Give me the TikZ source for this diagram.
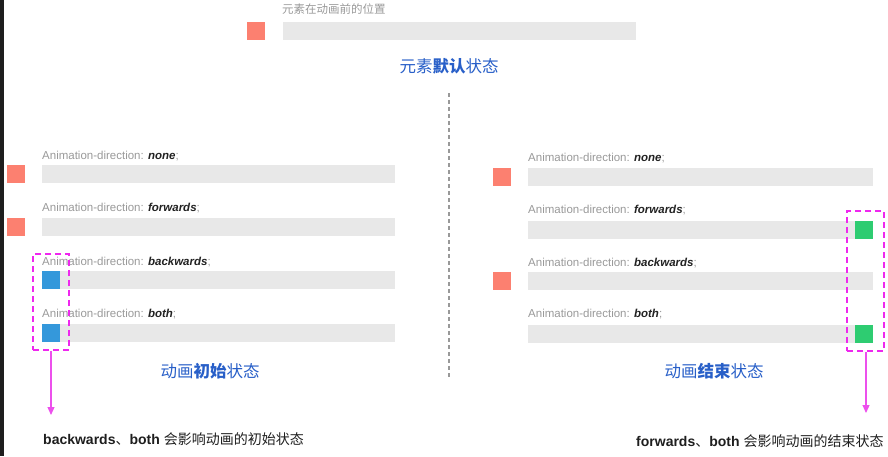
\documentclass[tikz,border=0pt]{standalone}
\usepackage{fontspec}
\setmainfont{Liberation Sans}
\newfontfamily\cjk{Noto Sans CJK SC}
\usepackage{tikz}
\usetikzlibrary{calc, positioning, arrows.meta}
\definecolor{sqred}{RGB}{252,128,112}
\definecolor{sqblue}{RGB}{52,152,219}
\definecolor{sqgreen}{RGB}{46,204,113}
\definecolor{barcol}{RGB}{232,232,232}
\definecolor{lblgray}{RGB}{153,153,153}
\definecolor{boldtxt}{RGB}{34,34,34}
\definecolor{titleblue}{RGB}{40,95,200}
\definecolor{markpink}{RGB}{238,40,238}
\definecolor{arrowpink}{RGB}{236,80,236}
\definecolor{notetxt}{RGB}{30,30,30}
\definecolor{stripdark}{RGB}{30,30,30}
\tikzstyle{sq}=[inner sep=0pt, minimum size=18pt, shape=rectangle]
\tikzstyle{bar}=[inner sep=0pt, minimum height=18pt, fill=barcol, anchor=north west]
\tikzstyle{lbl}=[inner sep=0pt, anchor=base west, text=lblgray, font=\fontsize{11.5}{13}\selectfont]
\tikzstyle{ttl}=[inner sep=0pt, text=titleblue, font=\cjk\fontsize{16.5}{18}\selectfont]
\tikzstyle{markbox}=[draw=markpink, dash pattern=on 6pt off 4pt, line width=1.8pt, inner sep=0pt, shape=rectangle]
\tikzstyle{note}=[inner sep=0pt, anchor=base west, text=notetxt, font=\fontsize{14}{16}\selectfont]
\tikzstyle{pointer}=[->, arrowpink, line width=1.1pt]
\tikzset{>={Triangle[width=7pt,length=8pt]}}
\newcommand{\dirval}[1]{\textcolor{boldtxt}{\textbf{\textit{#1}}}}

\begin{document}
\begin{tikzpicture}[x=1pt, y=-1pt]
\useasboundingbox (0,0) rectangle (888,456);
\fill[stripdark] (0,0) rectangle (4,456);
% the default state
\node[inner sep=0pt, anchor=base west, text=lblgray, font=\cjk\fontsize{11.5}{13}\selectfont] (cap) at (282,13) {元素在动画前的位置};
\node[sq, fill=sqred] (s0) at (256,31) {};
\node[bar, minimum width=353pt] (b0) at (283,22) {};
\node[ttl] (t0) at (449,66) {元素\textbf{默认}状态};
% the divider
\draw[lblgray, line width=1.3pt, dash pattern=on 4pt off 3pt] (449,93) -- (449,377);
% the start state
\node[lbl] (la1) at (42,159) {Animation-direction: \dirval{none};};
\node[bar, minimum width=353pt] (ba1) at (42,165) {};
\node[sq, fill=sqred] (sa1) at (16,174) {};
\node[lbl] (la2) at (42,211) {Animation-direction: \dirval{forwards};};
\node[bar, minimum width=353pt] (ba2) at (42,218) {};
\node[sq, fill=sqred] (sa2) at (16,227) {};
\node[lbl] (la3) at (42,265) {Animation-direction: \dirval{backwards};};
\node[bar, minimum width=353pt] (ba3) at (42,271) {};
\node[sq, fill=sqblue] (sa3) at (51,280) {};
\node[lbl] (la4) at (42,317) {Animation-direction: \dirval{both};};
\node[bar, minimum width=353pt] (ba4) at (42,324) {};
\node[sq, fill=sqblue] (sa4) at (51,333) {};
\node[ttl] (ta) at (210,371) {动画\textbf{初始}状态};
% the end state
\node[lbl] (lb1) at (528,161) {Animation-direction: \dirval{none};};
\node[bar, minimum width=345pt] (bb1) at (528,168) {};
\node[sq, fill=sqred] (sb1) at (502,176.5) {};
\node[lbl] (lb2) at (528,213) {Animation-direction: \dirval{forwards};};
\node[bar, minimum width=345pt] (bb2) at (528,221) {};
\node[sq, fill=sqgreen] (sb2) at (864,229.5) {};
\node[lbl] (lb3) at (528,266) {Animation-direction: \dirval{backwards};};
\node[bar, minimum width=345pt] (bb3) at (528,272) {};
\node[sq, fill=sqred] (sb3) at (502,281) {};
\node[lbl] (lb4) at (528,317) {Animation-direction: \dirval{both};};
\node[bar, minimum width=345pt] (bb4) at (528,325) {};
\node[sq, fill=sqgreen] (sb4) at (864,333.5) {};
\node[ttl] (tb) at (714,371) {动画\textbf{结束}状态};
% the marked squares and notes
\node[markbox, minimum width=36pt, minimum height=96pt] (ma) at (51,302) {};
\node[markbox, minimum width=37pt, minimum height=140pt] (mb) at (865.5,281) {};
\coordinate (ea) at (51,415);
\coordinate (eb) at (866,413);
\draw[pointer] (ma.south) -- (ea);
\draw[pointer] (mb.south -| eb) -- (eb);
\node[note] (na) at (43,444) {\textbf{backwards}{\cjk 、}\textbf{both} {\cjk 会影响动画的初始状态}};
\node[note] (nb) at (636,446) {\textbf{forwards}{\cjk 、}\textbf{both} {\cjk 会影响动画的结束状态}};
\end{tikzpicture}
\end{document}
